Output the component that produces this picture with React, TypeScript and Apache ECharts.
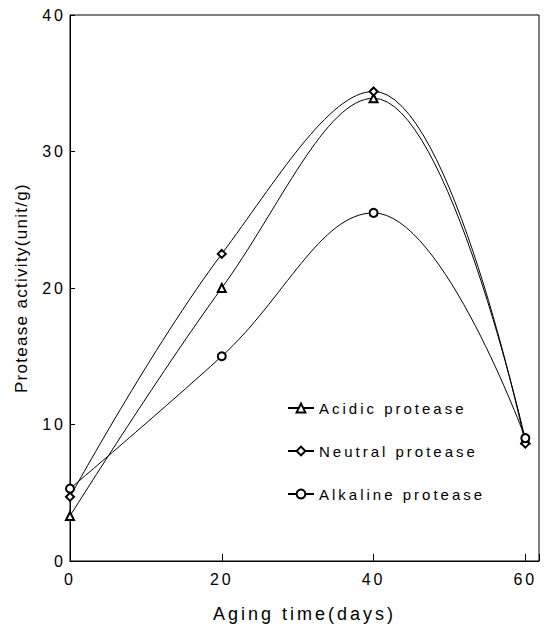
import React, { useEffect, useRef } from "react";
import * as echarts from "echarts";

const days = [0, 20, 40, 60];
const xTicks = [0, 20, 40, 60];
const yTicks = [0, 10, 20, 30, 40];
const acidic = [3.3, 20.0, 33.9, 8.9];
const neutral = [4.7, 22.5, 34.4, 8.6];
const alkaline = [5.3, 15.0, 25.5, 9.0];

const FONT = '"Liberation Sans", Arial, Helvetica, sans-serif';
const Y_NAME = "Protease activity(unit/g)";

function pairs(vals: number[]) {
  return days.map((d, i) => [d, vals[i]]);
}

export default function App() {
  const ref = useRef<HTMLDivElement>(null);
  useEffect(() => {
    if (!ref.current) return;
    const el = ref.current;
    const chart = echarts.init(el, null, { renderer: "svg" });
    const mk = (name: string, vals: number[], symbol: string) => ({
      name,
      type: "line",
      data: pairs(vals),
      smooth: 0.4,
      symbol,
      symbolSize: 8,
      showAllSymbol: true,
      lineStyle: { color: "#000", width: 1 },
      itemStyle: { color: "#000", borderWidth: 1 },
    });
    const fixSpacing = () => {
      el.querySelectorAll("text").forEach((t) => {
        if (t.textContent === Y_NAME) (t as any).style.letterSpacing = "1.3px";
      });
    };
    chart.on("finished", fixSpacing);
    chart.setOption({
      animation: false,
      backgroundColor: "#fff",
      textStyle: { fontFamily: FONT, color: "#000" },
      grid: {
        left: 70,
        right: 8,
        top: 15,
        bottom: 74,
        show: true,
        borderColor: "#000",
        borderWidth: 1,
      },
      legend: {
        orient: "vertical",
        left: 282,
        top: 394,
        itemGap: 25,
        itemWidth: 26,
        itemHeight: 11,
        textStyle: { fontFamily: FONT, fontSize: 15, color: "#000", lineHeight: 18 },
        data: ["Acidic protease", "Neutral protease", "Alkaline protease"],
      },
      xAxis: {
        type: "value",
        min: 0,
        max: 61.8,
        interval: 20,
        name: "Aging time(days)",
        nameLocation: "middle",
        nameGap: 44,
        nameTextStyle: { fontFamily: FONT, fontSize: 18, color: "#000" },
        axisLine: { lineStyle: { color: "#000", width: 1 } },
        axisTick: { inside: true, length: 7, lineStyle: { color: "#000" } },
        axisLabel: {
          fontFamily: FONT,
          fontSize: 16,
          color: "#000",
          margin: 10,
          formatter: (v: number) => (xTicks.includes(v) ? String(v) : ""),
        },
        splitLine: { show: false },
      },
      yAxis: {
        type: "value",
        min: 0,
        max: 40,
        interval: 10,
        name: Y_NAME,
        nameLocation: "middle",
        nameGap: 40,
        nameTextStyle: { fontFamily: FONT, fontSize: 17, color: "#000" },
        axisLine: { show: true, lineStyle: { color: "#000", width: 1 } },
        axisTick: { show: true, inside: true, length: 5, lineStyle: { color: "#000" } },
        axisLabel: {
          fontFamily: FONT,
          fontSize: 16,
          color: "#000",
          margin: 4,
          formatter: (v: number) => (yTicks.includes(v) ? String(v) : ""),
        },
        splitLine: { show: false },
      },
      series: [
        mk("Acidic protease", acidic, "emptyTriangle"),
        mk("Neutral protease", neutral, "emptyDiamond"),
        mk("Alkaline protease", alkaline, "emptyCircle"),
      ],
    });
    fixSpacing();
    return () => chart.dispose();
  }, []);
  return (
    <div
      ref={ref}
      style={{
        position: "fixed",
        left: 0,
        top: 0,
        width: 547,
        height: 635,
        letterSpacing: "3px",
        background: "#fff",
      }}
    />
  );
}
